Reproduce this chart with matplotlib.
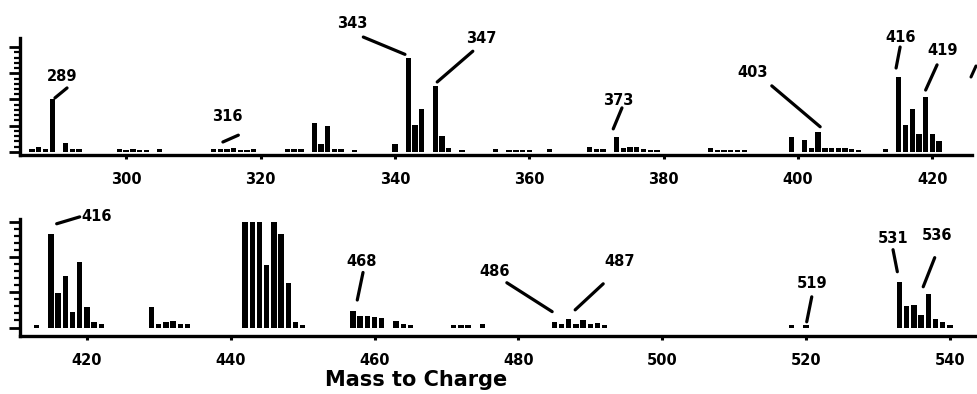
import matplotlib
matplotlib.use("Agg")
import matplotlib.pyplot as plt
import numpy as np
from matplotlib.ticker import FixedLocator

# ---------------- data ----------------
top_mz = [286, 287, 288, 289, 291, 292, 293, 299, 300, 301, 302, 303, 305,
          313, 314, 315, 316, 317, 318, 319, 324, 325, 326, 328, 329, 330, 331, 332, 334,
          340, 342, 343, 344, 346, 347, 348, 350, 355, 357, 358, 359, 360, 363,
          369, 370, 371, 373, 374, 375, 376, 377, 378, 379, 387, 388, 389, 390, 391, 392,
          399, 401, 402, 403, 404, 405, 406, 407, 408, 409, 413,
          415, 416, 417, 418, 419, 420, 421]
top_int = [2.5, 5, 3, 50, 9, 2.5, 3, 3, 2, 3, 2, 2, 3,
           3, 2.5, 2.5, 3.5, 2, 2, 2.5, 3, 2.5, 2.5, 28, 8, 25, 3, 3, 2,
           8, 90, 26, 41, 63, 15, 3.5, 2, 3, 2, 2, 2, 2, 3,
           5, 2.5, 3, 14, 4, 5, 5, 2.5, 2, 2, 3.5, 2, 2, 2, 2, 2,
           14, 11, 4, 19, 4, 4, 3.5, 3.5, 2.5, 2, 3,
           71, 26, 41, 17, 52, 17, 10]

bot_mz = [413, 415, 416, 417, 418, 419, 420, 421, 422,
          429, 430, 431, 432, 433, 434,
          442, 443, 444, 445, 446, 447, 448, 449, 450,
          457, 458, 459, 460, 461, 463, 464, 465,
          471, 472, 473, 475,
          485, 486, 487, 488, 489, 490, 491, 492,
          518, 520,
          533, 534, 535, 536, 537, 538, 539, 540]
bot_int = [2.5, 88, 33, 49, 15, 62, 19, 5, 3.5,
           19, 3.5, 5, 6, 3.5, 3.5,
           100, 100, 100, 59, 100, 88, 42, 5, 2.5,
           16, 11, 11, 10, 9, 6, 3, 2,
           2, 2, 2, 3.5,
           5, 3.5, 8, 3.5, 7, 3.5, 4, 2.5,
           2.5, 2.5,
           43, 20, 21, 12, 32, 8, 5, 2.5]

top_ticks = [300, 320, 340, 360, 380, 400, 420]
bot_ticks = [420, 440, 460, 480, 500, 520, 540]

top_labels = ["289", "316", "343", "347", "373", "403", "416", "419"]
bot_labels = ["416", "468", "486", "487", "519", "531", "536"]

# label placement (text x, text y, line x1, y1, x2, y2) in data units
top_place = [(290.5, 72, 291.2, 61, 289.4, 51.5),
             (315.0, 34, 316.7, 16, 314.4, 9.5),
             (333.6, 122, 335.3, 109.5, 341.5, 93),
             (352.8, 108.5, 351.6, 96, 346.3, 66.7),
             (373.2, 49.5, 373.8, 42, 372.5, 22),
             (393.2, 76, 396.1, 63, 403.3, 24),
             (415.3, 109.5, 415.2, 100, 414.6, 80),
             (421.6, 97, 420.7, 83, 419.0, 59)]
bot_place = [(421.3, 104.7, 415.8, 98, 419.0, 104.5),
             (458.2, 62, 458.4, 52, 457.6, 26),
             (476.7, 52.7, 478.4, 42.3, 484.7, 15),
             (494.1, 62, 491.8, 41.3, 487.9, 16.7),
             (520.8, 41.3, 520.8, 29, 520.1, 5.4),
             (532.1, 84, 532.1, 73.5, 532.7, 52.7),
             (538.2, 87, 537.9, 66, 536.3, 38.5)]

# ---------------- figure ----------------
W, H = 978, 394
fig = plt.figure(figsize=(W / 100, H / 100), dpi=100)
fig.patch.set_facecolor("white")

FONT = "DejaVu Sans"


def frac_box(x0, y_top, x1, y_bot):
    return [x0 / W, 1 - y_bot / H, (x1 - x0) / W, (y_bot - y_top) / H]


ax1 = fig.add_axes(frac_box(20, 38, 972, 155))
ax2 = fig.add_axes(frac_box(20, 219, 975, 336))


def style(ax, xlim, ylim, xticks, major, minor):
    ax.set_xlim(*xlim)
    ax.set_ylim(*ylim)
    for s in ("top", "right"):
        ax.spines[s].set_visible(False)
    for s in ("left", "bottom"):
        ax.spines[s].set_linewidth(2.4)
        ax.spines[s].set_color("black")
    ax.set_xticks(xticks)
    ax.set_xticklabels([str(t) for t in xticks], fontsize=10.5,
                       fontweight="bold", family=FONT)
    ax.tick_params(axis="x", direction="out", length=3, width=2.2, pad=9)
    ax.yaxis.set_major_locator(FixedLocator(major))
    ax.yaxis.set_minor_locator(FixedLocator(minor))
    ax.set_yticklabels([])
    ax.tick_params(axis="y", which="major", direction="out", length=8, width=2)
    ax.tick_params(axis="y", which="minor", direction="out", length=4, width=1.6)
    ax.set_facecolor("none")


style(ax1, (284.2, 425.9), (-2.9, 108.6), top_ticks,
      [0, 25, 50, 75, 100], list(np.arange(0, 105, 5)))
style(ax2, (410.7, 543.5), (-8, 102.5), bot_ticks,
      [0, 100 / 3, 200 / 3, 100], list(np.arange(0, 101, 100 / 15)))

ax1.bar(top_mz, top_int, width=0.8, color="black", linewidth=0)
ax2.bar(bot_mz, bot_int, width=0.75, color="black", linewidth=0)


def annotate(ax, labels, places):
    for lab, (tx, ty, x1, y1, x2, y2) in zip(labels, places):
        ax.text(tx, ty, lab, ha="center", va="center", fontsize=10.5,
                fontweight="bold", family=FONT, clip_on=False)
        ax.plot([x1, x2], [y1, y2], color="black", lw=2.3,
                solid_capstyle="round", clip_on=False)


annotate(ax1, top_labels, top_place)
annotate(ax2, bot_labels, bot_place)

fig.text(416 / W, 1 - 380 / H, "Mass to Charge", ha="center", va="center",
         fontsize=15, fontweight="bold", family=FONT)

# clipped stroke at the right edge of the top panel (scan fragment)
fig.add_artist(plt.Line2D([971 / W, 976 / W], [1 - 77 / H, 1 - 66 / H],
                          color="black", lw=2.2, solid_capstyle="round"))

fig.savefig("out.png", dpi=100, facecolor="white")
